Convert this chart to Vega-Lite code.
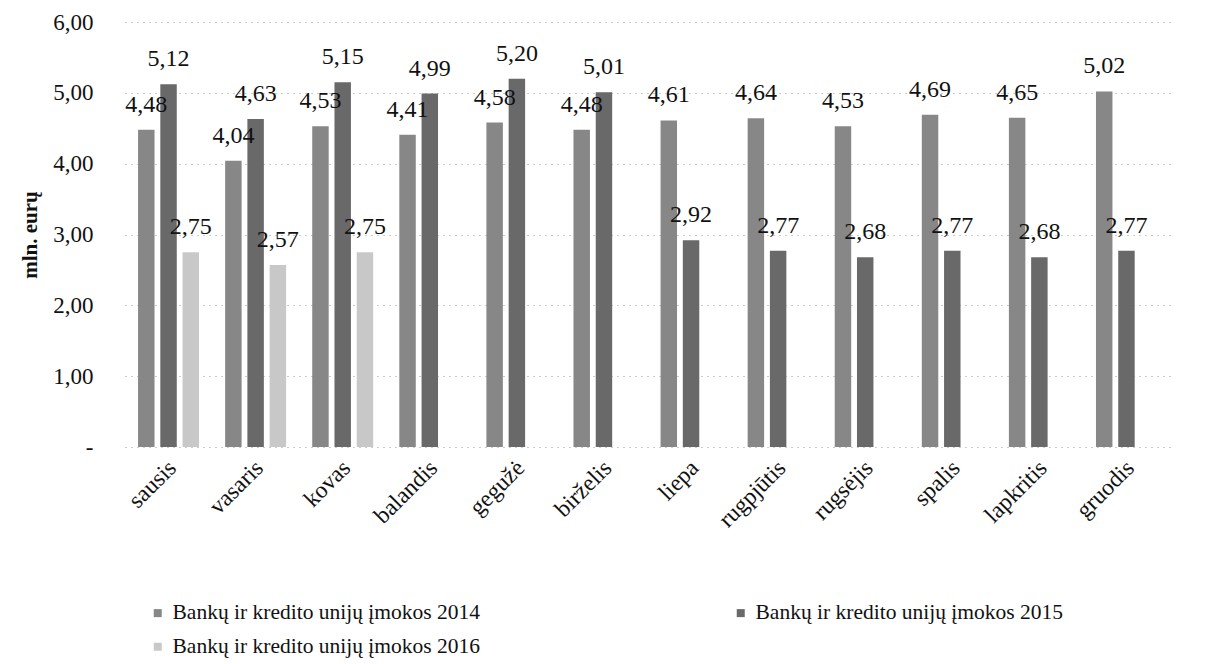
{
  "$schema": "https://vega.github.io/schema/vega-lite/v6.json",
  "width": 1045,
  "height": 425,
  "autosize": "none",
  "padding": {"left": 125, "top": 22, "right": 59, "bottom": 217},
  "background": "white",
  "config": {
    "locale": {"number": {"decimal": ",", "thousands": " ", "grouping": [3], "currency": ["", " €"]}},
    "font": "Liberation Serif",
    "view": {"stroke": null}
  },
  "data": {
    "values": [
      {"month": "sausis", "series": "Bankų ir kredito unijų įmokos 2014", "value": 4.48},
      {"month": "sausis", "series": "Bankų ir kredito unijų įmokos 2015", "value": 5.12},
      {"month": "sausis", "series": "Bankų ir kredito unijų įmokos 2016", "value": 2.75},
      {"month": "vasaris", "series": "Bankų ir kredito unijų įmokos 2014", "value": 4.04},
      {"month": "vasaris", "series": "Bankų ir kredito unijų įmokos 2015", "value": 4.63},
      {"month": "vasaris", "series": "Bankų ir kredito unijų įmokos 2016", "value": 2.57},
      {"month": "kovas", "series": "Bankų ir kredito unijų įmokos 2014", "value": 4.53},
      {"month": "kovas", "series": "Bankų ir kredito unijų įmokos 2015", "value": 5.15},
      {"month": "kovas", "series": "Bankų ir kredito unijų įmokos 2016", "value": 2.75},
      {"month": "balandis", "series": "Bankų ir kredito unijų įmokos 2014", "value": 4.41},
      {"month": "balandis", "series": "Bankų ir kredito unijų įmokos 2015", "value": 4.99},
      {"month": "gegužė", "series": "Bankų ir kredito unijų įmokos 2014", "value": 4.58},
      {"month": "gegužė", "series": "Bankų ir kredito unijų įmokos 2015", "value": 5.20},
      {"month": "birželis", "series": "Bankų ir kredito unijų įmokos 2014", "value": 4.48},
      {"month": "birželis", "series": "Bankų ir kredito unijų įmokos 2015", "value": 5.01},
      {"month": "liepa", "series": "Bankų ir kredito unijų įmokos 2014", "value": 4.61},
      {"month": "liepa", "series": "Bankų ir kredito unijų įmokos 2015", "value": 2.92},
      {"month": "rugpjūtis", "series": "Bankų ir kredito unijų įmokos 2014", "value": 4.64},
      {"month": "rugpjūtis", "series": "Bankų ir kredito unijų įmokos 2015", "value": 2.77},
      {"month": "rugsėjis", "series": "Bankų ir kredito unijų įmokos 2014", "value": 4.53},
      {"month": "rugsėjis", "series": "Bankų ir kredito unijų įmokos 2015", "value": 2.68},
      {"month": "spalis", "series": "Bankų ir kredito unijų įmokos 2014", "value": 4.69},
      {"month": "spalis", "series": "Bankų ir kredito unijų įmokos 2015", "value": 2.77},
      {"month": "lapkritis", "series": "Bankų ir kredito unijų įmokos 2014", "value": 4.65},
      {"month": "lapkritis", "series": "Bankų ir kredito unijų įmokos 2015", "value": 2.68},
      {"month": "gruodis", "series": "Bankų ir kredito unijų įmokos 2014", "value": 5.02},
      {"month": "gruodis", "series": "Bankų ir kredito unijų įmokos 2015", "value": 2.77}
    ]
  },
  "encoding": {
    "x": {
      "field": "month",
      "type": "nominal",
      "sort": ["sausis", "vasaris", "kovas", "balandis", "gegužė", "birželis", "liepa", "rugpjūtis", "rugsėjis", "spalis", "lapkritis", "gruodis"],
      "scale": {"paddingInner": 0.3, "paddingOuter": 0.15},
      "axis": {
        "title": null,
        "labelAngle": -45,
        "labelAlign": "right",
        "labelBaseline": "middle",
        "labelFont": "Liberation Serif",
        "labelFontSize": 23.5,
        "labelColor": "#111",
        "labelPadding": 17,
        "labelOffset": 4,
        "ticks": false,
        "domain": false,
        "grid": false
      }
    },
    "xOffset": {
      "field": "series",
      "type": "nominal",
      "scale": {"paddingInner": 0.26}
    },
    "y": {
      "field": "value",
      "type": "quantitative",
      "scale": {"domain": [0, 6], "nice": false},
      "axis": {
        "title": "mln. eurų",
        "titleFont": "Liberation Serif",
        "titleFontSize": 21,
        "titleFontWeight": "bold",
        "titleColor": "#111",
        "titlePadding": 12,
        "values": [0, 1, 2, 3, 4, 5, 6],
        "format": ".2f",
        "labelExpr": "datum.value == 0 ? '-' : datum.label",
        "labelFont": "Liberation Serif",
        "labelFontSize": 23,
        "labelColor": "#111",
        "labelPadding": 32,
        "ticks": false,
        "domain": false,
        "grid": true,
        "gridColor": "#999",
        "gridDash": [1, 5],
        "gridWidth": 1
      }
    }
  },
  "layer": [
    {
      "mark": {"type": "bar"},
      "encoding": {
        "color": {
          "field": "series",
          "type": "nominal",
          "scale": {
            "domain": ["Bankų ir kredito unijų įmokos 2014", "Bankų ir kredito unijų įmokos 2015", "Bankų ir kredito unijų įmokos 2016"],
            "range": ["#878787", "#696969", "#c8c8c8"]
          },
          "legend": {
            "title": null,
            "orient": "none",
            "legendX": 22,
            "legendY": 580,
            "direction": "horizontal",
            "columns": 2,
            "columnPadding": 249,
            "rowPadding": 11,
            "symbolType": "square",
            "symbolSize": 64,
            "symbolStrokeWidth": 0,
            "labelOffset": 4,
            "labelFont": "Liberation Serif",
            "labelFontSize": 21.5,
            "labelColor": "#111",
            "labelLimit": 400
          }
        }
      }
    },
    {
      "mark": {"type": "text", "baseline": "bottom", "dy": -13, "font": "Liberation Serif", "fontSize": 24, "color": "#111"},
      "encoding": {
        "text": {"field": "value", "type": "quantitative", "format": ".2f"}
      }
    }
  ]
}
